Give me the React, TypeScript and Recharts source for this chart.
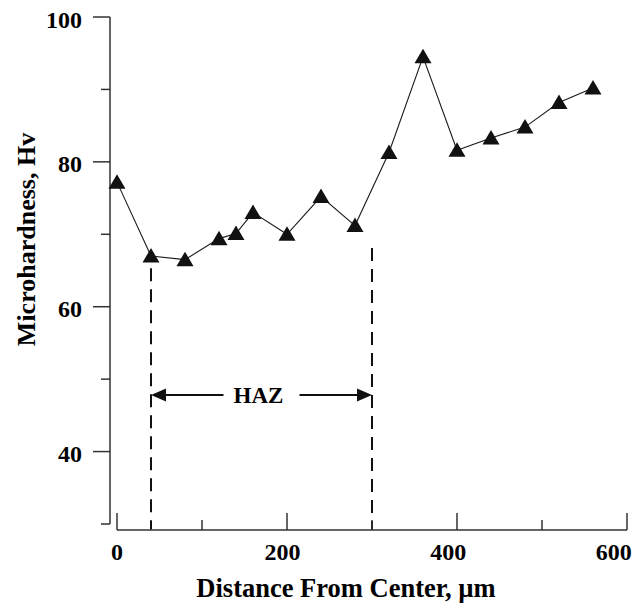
import { Label, Line, LineChart, ReferenceLine, XAxis, YAxis } from "recharts";

// microhardness traverse, distance in µm from the weld center
const distance = [0, 40, 80, 120, 140, 160, 200, 240, 280, 320, 360, 400, 440, 480, 520, 560];
const hardness = [77.2, 67.0, 66.5, 69.4, 70.1, 73.0, 70.0, 75.2, 71.2, 81.3, 94.5, 81.6, 83.3, 84.8, 88.2, 90.2];

const xTicks = [0, 100, 200, 300, 400, 500, 600];
const xLabeled = [0, 200, 400, 600];
const yTicks = [30, 40, 50, 60, 70, 80, 90, 100];
const yLabeled = [40, 60, 80, 100];

// heat affected zone boundaries and annotation levels (Hv)
const hazStart = 40;
const hazEnd = 300;
const hazStartTop = 65.3;
const hazEndTop = 68.1;
const hazArrowAt = 47.8;
const floorLevel = 29.2;

const data = distance.map((d, i) => ({ distance: d, hardness: hardness[i] }));

const FONT = "'Liberation Serif', 'Times New Roman', serif";
const INK = "#111";
const AXIS = "#333";
// the hardness axis sits a little left of zero distance
const SPINE_GAP = 7;
// distance labels drift inboard of their ticks a little as the value grows
const LABEL_DRIFT = 0.022;

function Triangle({ cx, cy }: any) {
  if (cx == null || cy == null) return null;
  return (
    <polygon
      points={`${cx},${cy - 8} ${cx - 8.5},${cy + 6.5} ${cx + 8.5},${cy + 6.5}`}
      fill={INK}
    />
  );
}

function XTick({ x, y, payload }: any) {
  const major = xLabeled.includes(payload.value);
  return (
    <g>
      <line x1={x} x2={x} y1={y} y2={y - (major ? 17 : 10)} stroke={AXIS} strokeWidth={1.5} />
      {major && (
        <text
          x={x - payload.value * LABEL_DRIFT}
          y={y + 30}
          textAnchor="middle"
          fontFamily={FONT}
          fontWeight="bold"
          fontSize={24}
          fill="#000"
        >
          {payload.value}
        </text>
      )}
    </g>
  );
}

function YTick({ x, y, payload }: any) {
  const major = yLabeled.includes(payload.value);
  const spine = x - SPINE_GAP;
  return (
    <g>
      <line x1={spine - (major ? 17 : 9)} x2={spine} y1={y} y2={y} stroke={AXIS} strokeWidth={1.5} />
      {major && (
        <text x={spine - 28} y={y + 10.5} textAnchor="end" fontFamily={FONT} fontWeight="bold" fontSize={24} fill="#000">
          {payload.value}
        </text>
      )}
    </g>
  );
}

function Spine({ x1, y1, x2, y2 }: any) {
  return (
    <line x1={x1 - SPINE_GAP} y1={y1} x2={x2 - SPINE_GAP} y2={y2} stroke={AXIS} strokeWidth={1.5} />
  );
}

function HazSpan({ x1, y1, x2 }: any) {
  const mid = (x1 + x2) / 2;
  const gap = 38;
  const head = 15;
  return (
    <g>
      <line x1={x1 + head} y1={y1} x2={mid - gap} y2={y1} stroke={INK} strokeWidth={2} />
      <polygon points={`${x1},${y1} ${x1 + head},${y1 - 6.5} ${x1 + head},${y1 + 6.5}`} fill={INK} />
      <line x1={mid + gap} y1={y1} x2={x2 - head} y2={y1} stroke={INK} strokeWidth={2} />
      <polygon points={`${x2},${y1} ${x2 - head},${y1 - 6.5} ${x2 - head},${y1 + 6.5}`} fill={INK} />
      <text x={mid - 3} y={y1 + 8} textAnchor="middle" fontFamily={FONT} fontWeight="bold" fontSize={23} fill="#000">
        HAZ
      </text>
    </g>
  );
}

function XTitle({ viewBox }: any) {
  const { x, y, width } = viewBox;
  return (
    <text
      x={x + width / 2 - 26}
      y={y + 67}
      textAnchor="middle"
      fontFamily={FONT}
      fontWeight="bold"
      fontSize={26.5}
      fill="#000"
    >
      Distance From Center, µm
    </text>
  );
}

function YTitle({ viewBox }: any) {
  const { x, y, height } = viewBox;
  const cx = x + 18;
  const cy = y + height / 2 - 34;
  return (
    <text
      x={cx}
      y={cy}
      transform={`rotate(-90 ${cx} ${cy})`}
      textAnchor="middle"
      fontFamily={FONT}
      fontWeight="bold"
      fontSize={26}
      fill="#000"
    >
      Microhardness, Hv
    </text>
  );
}

export default function App() {
  return (
    <div style={{ position: "absolute", left: 0, top: 0, background: "#fff" }}>
      <LineChart width={641} height={604} data={data} margin={{ top: 17, right: 14, bottom: 14, left: 17 }}>
        <XAxis
          type="number"
          dataKey="distance"
          domain={[0, 600]}
          ticks={xTicks}
          interval={0}
          tick={<XTick />}
          tickLine={false}
          tickSize={0}
          tickMargin={0}
          axisLine={{ stroke: AXIS, strokeWidth: 1.5 }}
          height={60}
        >
          <Label content={<XTitle />} />
        </XAxis>
        <YAxis
          type="number"
          domain={[30, 100]}
          ticks={yTicks}
          interval={0}
          padding={{ top: 0, bottom: 6 }}
          tick={<YTick />}
          tickLine={false}
          tickSize={0}
          tickMargin={0}
          axisLine={false}
          width={100}
        >
          <Label content={<YTitle />} />
        </YAxis>
        <ReferenceLine
          segment={[{ x: 0, y: 30 }, { x: 0, y: 100 }]}
          shape={<Spine />}
          ifOverflow="visible"
        />
        <ReferenceLine
          segment={[{ x: hazStart, y: hazStartTop }, { x: hazStart, y: floorLevel }]}
          stroke={INK}
          strokeWidth={2}
          strokeDasharray="13 8"
          ifOverflow="visible"
        />
        <ReferenceLine
          segment={[{ x: hazEnd, y: hazEndTop }, { x: hazEnd, y: floorLevel }]}
          stroke={INK}
          strokeWidth={2}
          strokeDasharray="13 8"
          ifOverflow="visible"
        />
        <ReferenceLine
          segment={[{ x: hazStart, y: hazArrowAt }, { x: hazEnd, y: hazArrowAt }]}
          shape={<HazSpan />}
          ifOverflow="visible"
        />
        <Line
          type="linear"
          dataKey="hardness"
          stroke="#1a1a1a"
          strokeWidth={1.1}
          dot={(p: any) => <Triangle key={p.index} cx={p.cx} cy={p.cy} />}
          activeDot={false}
          isAnimationActive={false}
        />
      </LineChart>
    </div>
  );
}
